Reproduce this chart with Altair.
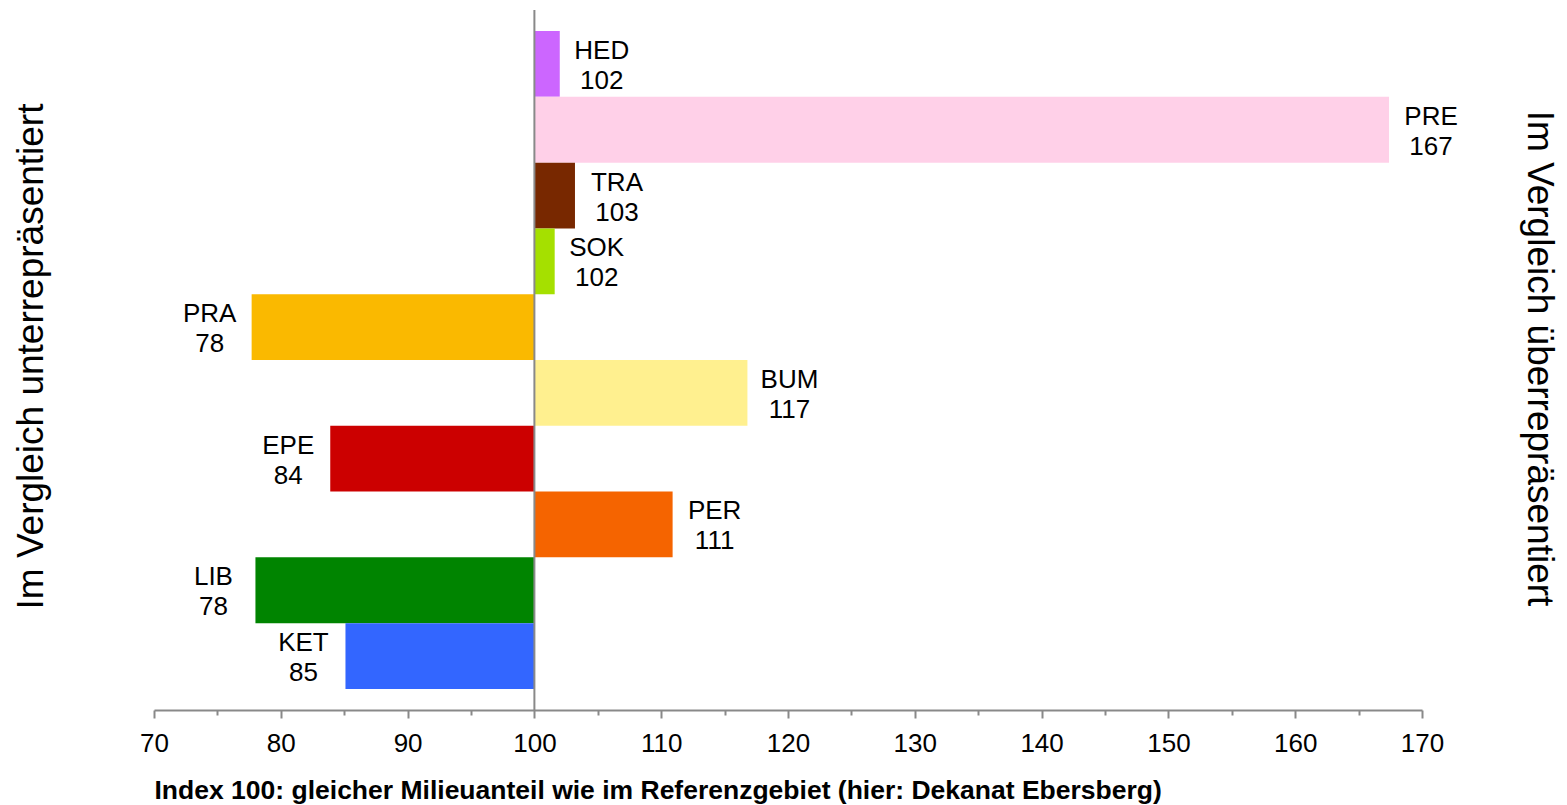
import altair as alt
import pandas as pd

categories = ["HED", "PRE", "TRA", "SOK", "PRA", "BUM", "EPE", "PER", "LIB", "KET"]
values = [102.0, 167.4, 103.2, 101.6, 77.7, 116.8, 83.9, 110.9, 78.0, 85.1]
colors = ["#CC66FF", "#FFD0E8", "#782800", "#A5E000", "#FAB900",
          "#FFF08F", "#CC0000", "#F56400", "#008400", "#3366FF"]
x_ticks = list(range(70, 171, 5))

df = pd.DataFrame({"cat": categories, "value": values})

FONT = "Liberation Sans"
GRAY = "#898989"

base = alt.Chart(df)
y_scale = alt.Scale(paddingInner=0, paddingOuter=0.32)

y_enc = alt.Y(
    "cat:N",
    sort=categories,
    scale=y_scale,
    axis=alt.Axis(
        title="Im Vergleich unterrepräsentiert",
        labels=False, ticks=False, domain=False,
        titleFont=FONT, titleFontSize=37, titleFontWeight="normal",
        titleColor="black", titleAngle=-90, titleX=-123, titleY=346,
        titleAlign="center", titleBaseline="middle",
    ),
)

x_scale = alt.Scale(domain=[70, 170], nice=False, zero=False)
x_axis = alt.Axis(
    values=x_ticks,
    labelExpr="datum.value % 10 === 0 ? datum.label : ''",
    tickSize=alt.ExprRef("datum.value % 10 === 0 ? 8 : 5"),
    tickColor=GRAY, tickWidth=2, domainColor=GRAY, domainWidth=2,
    grid=False, labelFont=FONT, labelFontSize=26, labelColor="black",
    labelPadding=12, labelFlush=False,
    title="Index 100: gleicher Milieuanteil wie im Referenzgebiet (hier: Dekanat Ebersberg)",
    titleFont=FONT, titleFontSize=26.5, titleFontWeight="bold", titleColor="black",
    titleAnchor="start", titleAlign="left", titlePadding=21,
)

bars = base.mark_bar().encode(
    x=alt.X("value:Q", scale=x_scale, axis=x_axis),
    x2=alt.datum(100),
    y=y_enc,
    color=alt.Color("cat:N", scale=alt.Scale(domain=categories, range=colors), legend=None),
)

rule = alt.Chart(pd.DataFrame({"value": [100]})).mark_rule(color=GRAY, strokeWidth=2).encode(
    x=alt.X("value:Q", scale=x_scale)
)

right_axis = base.mark_text(opacity=0).encode(
    y=alt.Y(
        "cat:N", sort=categories, scale=y_scale,
        axis=alt.Axis(
            orient="right", title="Im Vergleich überrepräsentiert",
            labels=False, ticks=False, domain=False,
            titleFont=FONT, titleFontSize=37, titleFontWeight="normal",
            titleColor="black", titleAngle=90, titleX=116, titleY=348,
            titleAlign="center", titleBaseline="middle",
        ),
    ),
    x=alt.X("value:Q", scale=x_scale),
    text=alt.value(""),
)

label_common = dict(font=FONT, fontSize=26, color="black", lineBreak="\n",
                    lineHeight=30, baseline="middle", align="center", dy=-13)

labels_pos = base.transform_filter("datum.value >= 100").transform_calculate(
    lbl="datum.cat + '\\n' + format(datum.value, '.0f')"
).mark_text(dx=42, **label_common).encode(
    x=alt.X("value:Q", scale=x_scale),
    y=alt.Y("cat:N", sort=categories, scale=y_scale, axis=None),
    text="lbl:N",
)

labels_neg = base.transform_filter("datum.value < 100").transform_calculate(
    lbl="datum.cat + '\\n' + format(datum.value, '.0f')"
).mark_text(dx=-42, **label_common).encode(
    x=alt.X("value:Q", scale=x_scale),
    y=alt.Y("cat:N", sort=categories, scale=y_scale, axis=None),
    text="lbl:N",
)

chart = alt.layer(bars, rule, labels_pos, labels_neg, right_axis).resolve_scale(
    y="shared"
).resolve_axis(y="independent").properties(
    width=1268, height=700,
    background="white",
    autosize=alt.AutoSizeParams(type="none"),
    padding={"left": 146, "top": 2, "right": 137, "bottom": 97},
).configure_view(stroke="transparent", strokeWidth=0)

chart.save("out.html", embed_options={"renderer": "svg", "actions": False})
